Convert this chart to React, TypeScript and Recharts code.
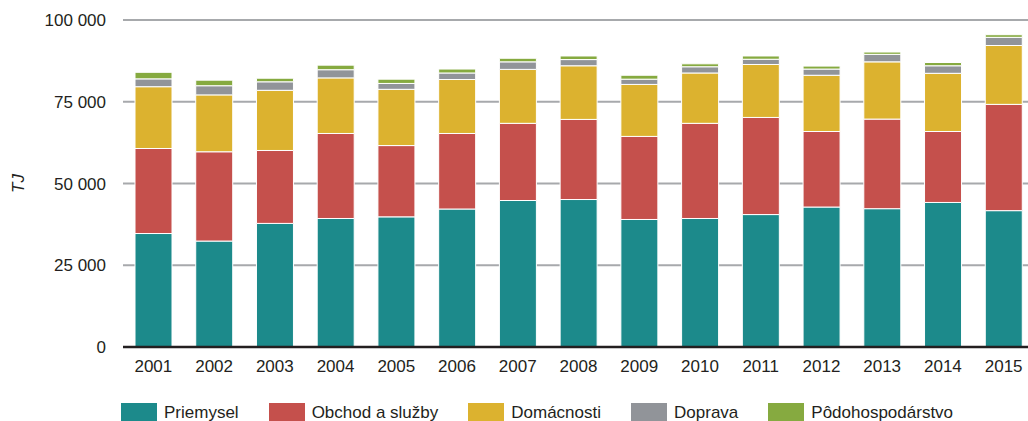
import React from 'react';
import { BarChart, Bar, XAxis, YAxis, CartesianGrid } from 'recharts';

// Final energy consumption by sector, TJ
const years = ['2001', '2002', '2003', '2004', '2005', '2006', '2007', '2008', '2009', '2010', '2011', '2012', '2013', '2014', '2015'];
const priemysel = [34700, 32400, 37800, 39300, 39800, 42200, 44800, 45100, 39000, 39300, 40500, 42800, 42300, 44200, 41700];
const obchod = [26000, 27300, 22300, 26000, 21800, 23100, 23600, 24500, 25400, 29100, 29700, 23100, 27400, 21700, 32500];
const domacnosti = [18900, 17400, 18400, 17000, 17200, 16500, 16500, 16400, 15900, 15400, 16200, 17200, 17500, 17800, 18000];
const doprava = [2400, 2800, 2600, 2500, 1800, 2000, 2300, 1900, 1600, 1900, 1600, 1900, 2300, 2300, 2500];
const podohospodarstvo = [2000, 1700, 1100, 1400, 1300, 1200, 1100, 1100, 1200, 900, 1000, 900, 700, 1000, 800];
const yTicks = [0, 25000, 50000, 75000, 100000];

const series = [
  { key: 'priemysel', name: 'Priemysel', color: '#1c8a8b', values: priemysel },
  { key: 'obchod', name: 'Obchod a služby', color: '#c5504c', values: obchod },
  { key: 'domacnosti', name: 'Domácnosti', color: '#dcb22f', values: domacnosti },
  { key: 'doprava', name: 'Doprava', color: '#919499', values: doprava },
  { key: 'podohospodarstvo', name: 'Pôdohospodárstvo', color: '#86aa40', values: podohospodarstvo },
];

const data = years.map((year, i) => {
  const row: Record<string, string | number> = { year };
  series.forEach((s) => {
    row[s.key] = s.values[i];
  });
  return row;
});

const FONT = '"Liberation Sans", Arial, Helvetica, sans-serif';
const TEXT = '#231f20';

const formatTick = (v: number) => v.toLocaleString('en-US').replace(/,/g, ' ');

export default function App() {
  return (
    <div style={{ position: 'absolute', left: 0, top: 0, width: 1028, height: 421, overflow: 'hidden', background: '#fff', fontFamily: FONT }}>
      <BarChart
        width={1040}
        height={421}
        data={data}
        margin={{ top: 20, right: 6, left: 0, bottom: 0 }}
        barSize={37}
      >
        <CartesianGrid vertical={false} stroke="#a7a9ac" strokeWidth={2} />
        {series.map((s) => (
          <Bar
            key={s.key}
            dataKey={s.key}
            name={s.name}
            stackId="a"
            fill={s.color}
            stroke="#ffffff"
            strokeWidth={1}
            isAnimationActive={false}
          />
        ))}
        <YAxis
          width={123}
          domain={[0, 100000]}
          ticks={yTicks}
          interval={0}
          tickFormatter={formatTick}
          axisLine={false}
          tickLine={false}
          tickSize={0}
          tickMargin={17}
          tick={{ fontSize: 17, fill: TEXT, fontFamily: FONT }}
          label={{
            value: 'TJ',
            angle: -90,
            position: 'insideLeft',
            offset: 18,
            style: { fontStyle: 'italic', fontSize: 17, fill: TEXT, fontFamily: FONT, textAnchor: 'middle' },
          }}
        />
        <XAxis
          dataKey="year"
          height={74}
          interval={0}
          axisLine={{ stroke: TEXT, strokeWidth: 2.5 }}
          tickLine={false}
          tickSize={0}
          tickMargin={13}
          tick={{ fontSize: 17, fill: TEXT, fontFamily: FONT }}
        />
      </BarChart>
      <div
        style={{
          position: 'absolute',
          left: 121,
          top: 403,
          display: 'flex',
          alignItems: 'flex-start',
          fontSize: 17,
          color: TEXT,
          whiteSpace: 'nowrap',
        }}
      >
        {series.map((s) => (
          <div key={s.key} style={{ display: 'flex', alignItems: 'flex-start', marginRight: 30 }}>
            <div style={{ width: 36, height: 20, background: s.color, marginRight: 7 }} />
            <span style={{ lineHeight: '20px' }}>{s.name}</span>
          </div>
        ))}
      </div>
    </div>
  );
}
